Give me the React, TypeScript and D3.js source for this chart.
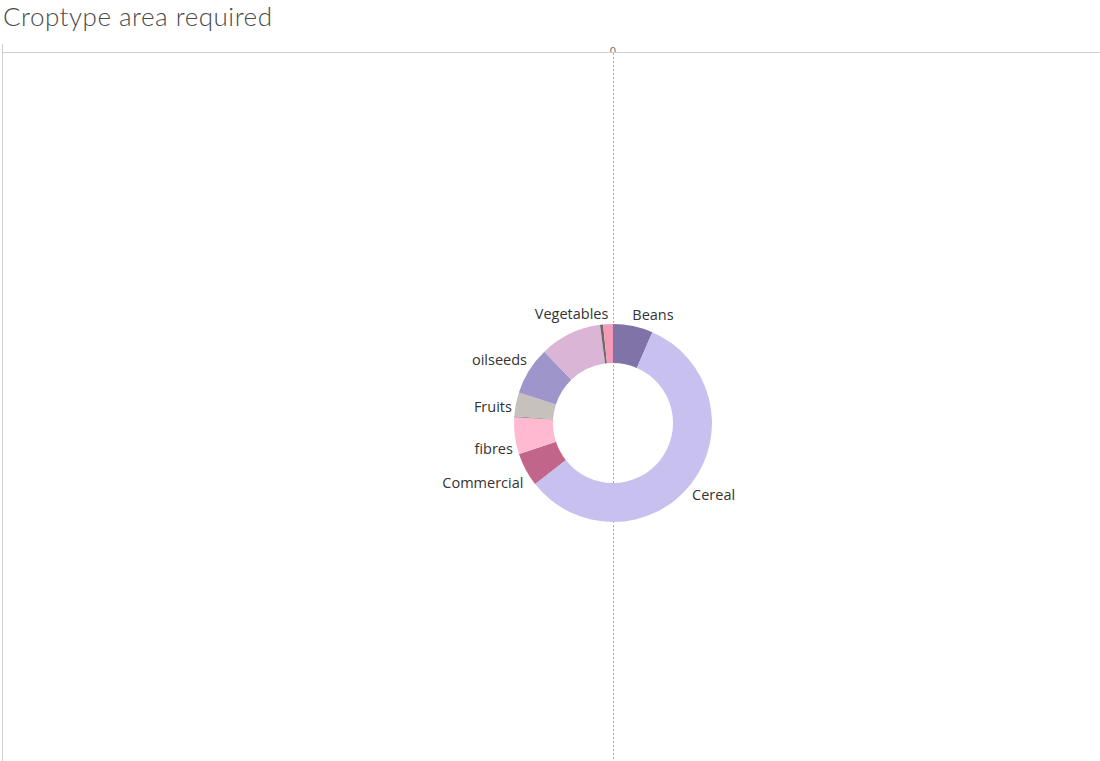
import React from "react";
import * as d3 from "d3";

const categories = ["Beans", "Cereal", "Commercial", "fibres", "Fodder", "Fruits", "oilseeds", "Vegetables", "Wild", "Yam"];
const values = [6.5, 57.9, 5.5, 6.0, 0.15, 3.9, 7.8, 10.1, 0.5, 1.6];
const showLabel = [true, true, true, true, false, true, true, true, false, false];
const colors = ["#7f73a8", "#c8c1f0", "#c2658a", "#ffbad2", "#8a8680", "#c6c1bd", "#9e95ca", "#dbb5d6", "#6e6a6a", "#f39bb6"];
const axisTicks = [0];

const W = 1100;
const H = 761;
const cx = 613;
const cy = 423;
const rOuter = 99;
const rInner = 60;

// layout nudges for labels (dx, dy) relative to computed anchor
const labelNudge: Record<string, [number, number]> = {
  Beans: [-2, -5],
  Cereal: [-4, 8],
  Commercial: [3, 10],
  fibres: [4, 12],
  Fruits: [2, 4],
  oilseeds: [3, -7],
  Vegetables: [41, -15],
};

export default function App() {
  const data = categories.map((c, i) => ({ name: c, value: values[i], color: colors[i], label: showLabel[i] }));
  const pie = d3.pie<any>().sort(null).value((d) => d.value);
  const arcs = pie(data);
  const arc = d3.arc<any>().innerRadius(rInner).outerRadius(rOuter);
  const xScale = d3.scaleLinear().domain([-1, 1]).range([cx - 500, cx + 500]);

  return (
    <svg width={W} height={H} style={{ position: "fixed", left: 0, top: 0, background: "#fff" }}>
      <defs>
        <clipPath id="tickclip">
          <rect x={0} y={0} width={W} height={52} />
        </clipPath>
      </defs>
      <text x={3} y={26} fontFamily="Lato, sans-serif" fontWeight={300} fontSize={26} letterSpacing={0.5} fill="#4a4a4a">
        Croptype area required
      </text>
      {/* axis frame */}
      <line x1={2.5} x2={2.5} y1={44} y2={H} stroke="#cfcfcf" strokeWidth={1} />
      <line x1={2} x2={W} y1={52.5} y2={52.5} stroke="#cfcfcf" strokeWidth={1} />
      {axisTicks.map((t) => (
        <g key={t}>
          <text x={xScale(t)} y={55} textAnchor="middle" fontFamily="'Open Sans', sans-serif" fontSize={11} fill="#666" clipPath="url(#tickclip)">
            {t}
          </text>
          <line x1={xScale(t) + 0.5} x2={xScale(t) + 0.5} y1={53} y2={H} stroke="#aaa" strokeWidth={1} strokeDasharray="2,2" />
        </g>
      ))}
      <g transform={`translate(${cx},${cy})`}>
        {arcs.map((a, i) => (
          <path key={i} d={arc(a) || ""} fill={a.data.color} />
        ))}
        {arcs.map((a, i) => {
          if (!a.data.label) return null;
          const mid = (a.startAngle + a.endAngle) / 2;
          const r = rOuter + 6;
          const x = Math.sin(mid) * r;
          const y = -Math.cos(mid) * r;
          const right = Math.sin(mid) > 0;
          const n = labelNudge[a.data.name] || [0, 0];
          return (
            <text
              key={"l" + i}
              x={x + n[0]}
              y={y + n[1]}
              dy="0.35em"
              textAnchor={right ? "start" : "end"}
              fontFamily="'Open Sans', sans-serif"
              fontSize={14.5}
              fill="#333"
            >
              {a.data.name}
            </text>
          );
        })}
      </g>
    </svg>
  );
}
